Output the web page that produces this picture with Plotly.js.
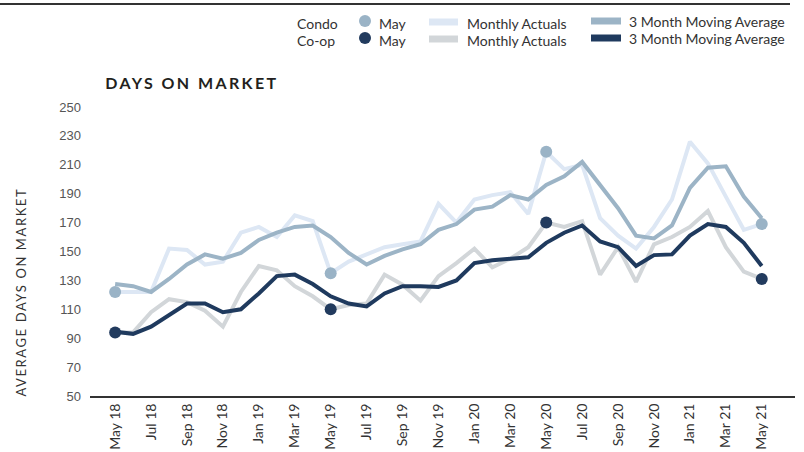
<!DOCTYPE html>
<html>
<head>
<meta charset="utf-8">
<script src="https://cdn.plot.ly/plotly-3.0.1.min.js"></script>
<style>
html,body{margin:0;padding:0;background:#fff;}
#chart{width:804px;height:452px;}
</style>
</head>
<body>
<div id="chart"></div>
<script>
const months = ["May 18","Jun 18","Jul 18","Aug 18","Sep 18","Oct 18","Nov 18","Dec 18",
  "Jan 19","Feb 19","Mar 19","Apr 19","May 19","Jun 19","Jul 19","Aug 19","Sep 19","Oct 19","Nov 19","Dec 19",
  "Jan 20","Feb 20","Mar 20","Apr 20","May 20","Jun 20","Jul 20","Aug 20","Sep 20","Oct 20","Nov 20","Dec 20",
  "Jan 21","Feb 21","Mar 21","Apr 21","May 21"];
const tickLabels = ["May 18","Jul 18","Sep 18","Nov 18","Jan 19","Mar 19","May 19","Jul 19","Sep 19","Nov 19",
  "Jan 20","Mar 20","May 20","Jul 20","Sep 20","Nov 20","Jan 21","Mar 21","May 21"];

const condoActual = [122,122,122,152,151,141,143,163,167,160,175,171,135,143,148,153,155,157,183,170,
  186,189,191,176,219,207,210,173,161,152,167,186,226,211,188,165,169];
const condoMA = [127.5,126,122,131,141,148,145,149,158,163,167,168,160,149,141,147,151.5,155,165,169,
  179,181,189,186,196,202,212,196,180,161,159,168,194,208,209,188,173];
const coopActual = [94,94,108,117,115,109,98,122,140,137,126,119,110,113,114,134,127,116,133,142,
  152,139,145,153,170,167,171,134,153,129,155,160,167,178,153,136,131];
const coopMA = [94.5,93,98,106,114,114,108,110,121,133,134,127.5,119,114,112,121,126,126,125.5,130,
  142,144,145,146,156,163,168,157,153,140,147.5,148,161,169,167,156,140];

const mayLabels = ["May 18","May 19","May 20","May 21"];
const condoMay = [122,135,219,169];
const coopMay = [94,110,170,131];

const C_CONDO_ACT = "#dde7f4";
const C_CONDO_MA = "#9cb4c6";
const C_COOP_ACT = "#d2d6d9";
const C_COOP_MA = "#1f3a5e";
const C_CONDO_DOT = "#9ab3c6";
const C_COOP_DOT = "#223b5e";

const traces = [
  {x: months, y: condoActual, type:"scatter", mode:"lines", line:{color:C_CONDO_ACT, width:4}, hoverinfo:"skip"},
  {x: months, y: coopActual, type:"scatter", mode:"lines", line:{color:C_COOP_ACT, width:4}, hoverinfo:"skip"},
  {x: months, y: condoMA, type:"scatter", mode:"lines", line:{color:C_CONDO_MA, width:4}, hoverinfo:"skip"},
  {x: months, y: coopMA, type:"scatter", mode:"lines", line:{color:C_COOP_MA, width:4}, hoverinfo:"skip"},
  {x: mayLabels, y: condoMay, type:"scatter", mode:"markers", marker:{color:C_CONDO_DOT, size:12}, hoverinfo:"skip"},
  {x: mayLabels, y: coopMay, type:"scatter", mode:"markers", marker:{color:C_COOP_DOT, size:12}, hoverinfo:"skip"}
];

// pixel -> paper helpers (plot area: x 90..795, y 107..396)
const L=90, R=795, T=107, B=396;
const px = v => (v - L) / (R - L);
const py = v => (B - v) / (B - T);

const txtFont = {family:"Lato, 'Open Sans', sans-serif", size:14, color:"#333333"};
const annotations = [
  {text:"DAYS ON MARKET", xref:"paper", yref:"paper", x:px(192), y:py(82), xanchor:"center", yanchor:"middle",
   showarrow:false, font:{family:"Lato, sans-serif", size:16, color:"#231f20", weight:700}},
  {text:"AVERAGE DAYS ON MARKET", xref:"paper", yref:"paper", x:px(21), y:py(292), xanchor:"center", yanchor:"middle",
   textangle:-90, showarrow:false, font:{family:"Lato, sans-serif", size:13, color:"#333333"}},
  {text:"Condo", xref:"paper", yref:"paper", x:px(295), y:py(23), xanchor:"left", yanchor:"middle", showarrow:false, font:txtFont},
  {text:"Co-op", xref:"paper", yref:"paper", x:px(295), y:py(40), xanchor:"left", yanchor:"middle", showarrow:false, font:txtFont},
  {text:"May", xref:"paper", yref:"paper", x:px(377), y:py(23), xanchor:"left", yanchor:"middle", showarrow:false, font:txtFont},
  {text:"May", xref:"paper", yref:"paper", x:px(377), y:py(40), xanchor:"left", yanchor:"middle", showarrow:false, font:txtFont},
  {text:"Monthly Actuals", xref:"paper", yref:"paper", x:px(465), y:py(23), xanchor:"left", yanchor:"middle", showarrow:false, font:txtFont},
  {text:"Monthly Actuals", xref:"paper", yref:"paper", x:px(465), y:py(40), xanchor:"left", yanchor:"middle", showarrow:false, font:txtFont},
  {text:"3 Month Moving Average", xref:"paper", yref:"paper", x:px(627), y:py(22), xanchor:"left", yanchor:"middle", showarrow:false, font:txtFont},
  {text:"3 Month Moving Average", xref:"paper", yref:"paper", x:px(627), y:py(39), xanchor:"left", yanchor:"middle", showarrow:false, font:txtFont}
];

const shapes = [
  {type:"line", xref:"paper", yref:"paper", x0:px(0), x1:px(790), y0:py(4), y1:py(4), line:{color:"#333333", width:2}},
  {type:"circle", xref:"paper", yref:"paper", x0:px(359), x1:px(371), y0:py(15), y1:py(27), fillcolor:C_CONDO_DOT, line:{width:0}},
  {type:"circle", xref:"paper", yref:"paper", x0:px(359), x1:px(371), y0:py(32), y1:py(44), fillcolor:C_COOP_DOT, line:{width:0}},
  {type:"line", xref:"paper", yref:"paper", x0:px(429), x1:px(458), y0:py(22), y1:py(22), line:{color:C_CONDO_ACT, width:7}},
  {type:"line", xref:"paper", yref:"paper", x0:px(429), x1:px(458), y0:py(39), y1:py(39), line:{color:C_COOP_ACT, width:7}},
  {type:"line", xref:"paper", yref:"paper", x0:px(591), x1:px(621), y0:py(21), y1:py(21), line:{color:C_CONDO_MA, width:7}},
  {type:"line", xref:"paper", yref:"paper", x0:px(591), x1:px(621), y0:py(38), y1:py(38), line:{color:C_COOP_MA, width:7}}
];

const layout = {
  width:804, height:452,
  margin:{l:L, r:804-R, t:T, b:452-B, pad:0},
  paper_bgcolor:"#ffffff", plot_bgcolor:"#ffffff",
  showlegend:false,
  xaxis:{type:"category", categoryorder:"array", categoryarray:months,
    range:[-1.4, 37.85], tickmode:"array", tickvals:tickLabels, ticktext:tickLabels,
    tickangle:-90, showgrid:false, zeroline:false, showline:true, linecolor:"#333333", linewidth:2,
    ticks:"", tickfont:{family:"Lato, sans-serif", size:14, color:"#333333"}, fixedrange:true},
  yaxis:{range:[50,250], tick0:50, dtick:20, showgrid:false, zeroline:false, showline:false,
    ticks:"", ticklabelstandoff:8, tickfont:{family:"'Liberation Sans', Arial, sans-serif", size:13, color:"#555555"}, fixedrange:true},
  annotations: annotations,
  shapes: shapes
};

Plotly.newPlot("chart", traces, layout, {displayModeBar:false, staticPlot:true}).then(function(){
  document.querySelectorAll(".annotation-text").forEach(function(el){
    const t = el.textContent;
    if (t === "DAYS ON MARKET") el.style.letterSpacing = "2.4px";
    if (t === "AVERAGE DAYS ON MARKET") el.style.letterSpacing = "1.6px";
  });
});
</script>
</body>
</html>
